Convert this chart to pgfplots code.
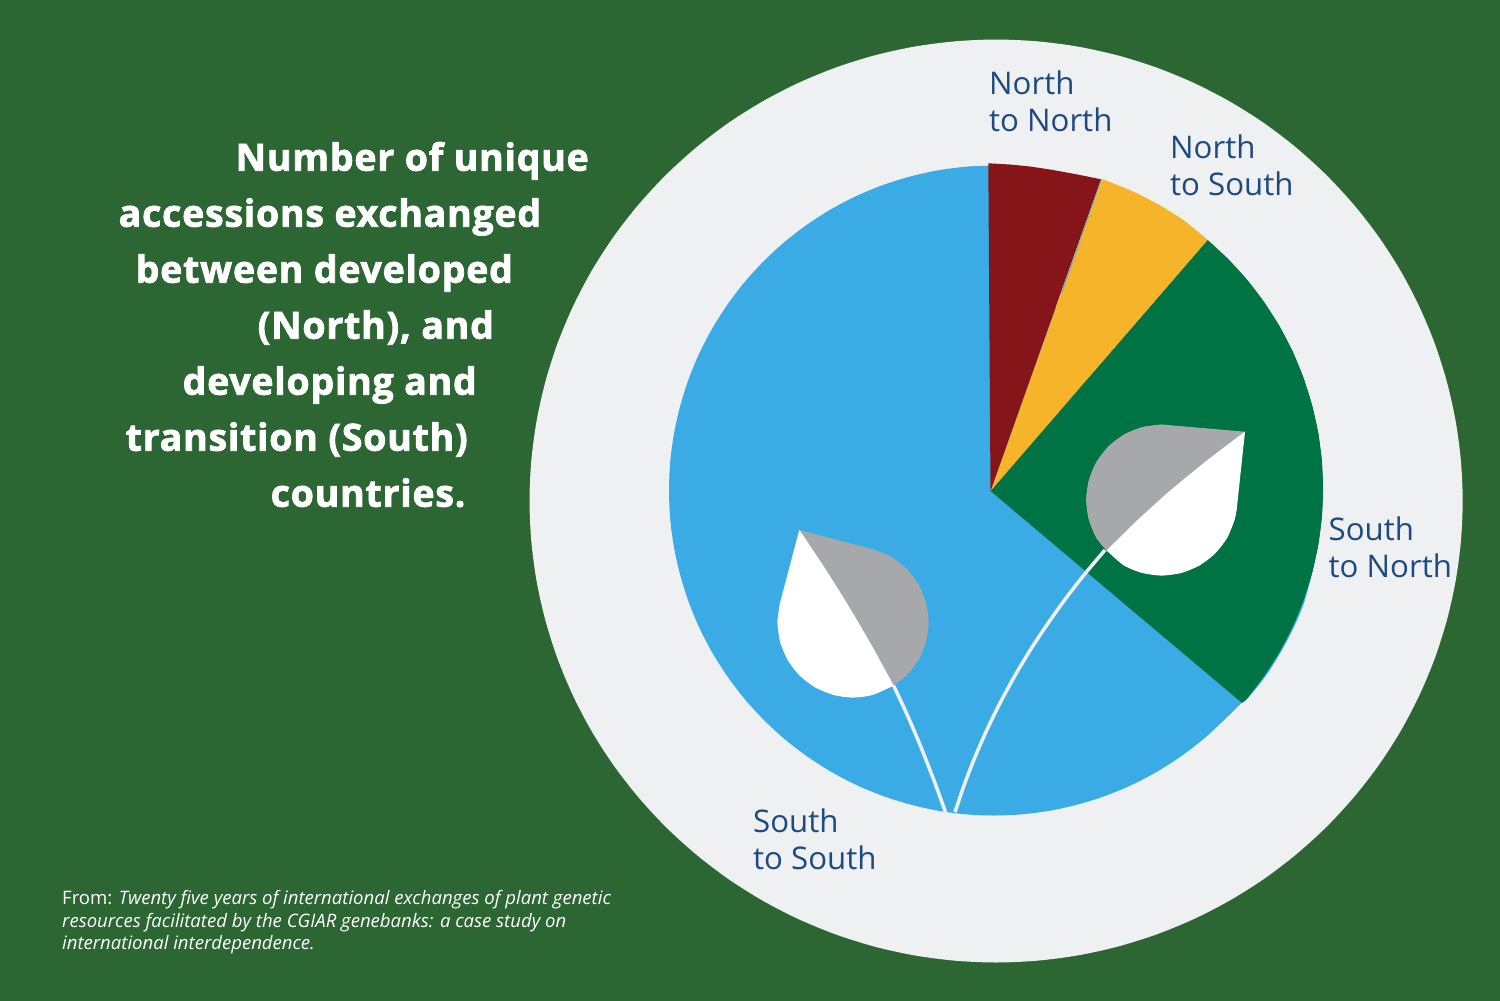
\documentclass[border=0pt]{standalone}
\usepackage{fontspec}
\setmainfont[BoldFeatures={FakeBold=2,LetterSpace=2}]{Open Sans}
\usepackage{pgfplots}
\pgfplotsset{compat=1.18}

\definecolor{bgGreen}{HTML}{2C6633}
\definecolor{disc}{HTML}{EFF0F2}
\definecolor{skyBlue}{HTML}{3AABE4}
\definecolor{maroon}{HTML}{851518}
\definecolor{amber}{HTML}{F6B42B}
\definecolor{sliceGreen}{HTML}{007344}
\definecolor{leafGray}{HTML}{A7A8AB}
\definecolor{labelBlue}{HTML}{1D4A80}

\tikzset{
  titleline/.style={anchor=base west,inner sep=0pt,text=white,font=\fontsize{37.5}{37.5}\selectfont\bfseries},
  slicelabel/.style={anchor=base west,inner sep=0pt,text=labelBlue,font=\fontsize{31.2}{31.2}\selectfont},
  source/.style={anchor=base west,inner sep=0pt,text=white,font=\fontsize{18.55}{18.55}\selectfont},
}

\begin{document}
\begin{tikzpicture}
\begin{axis}[
  scale only axis,width=1500pt,height=1001pt,
  xmin=0,xmax=1500,ymin=0,ymax=1001,y dir=reverse,
  hide axis,
]
% background
\addplot[fill=bgGreen,draw=none] coordinates {(0,0) (1500,0) (1500,1001) (0,1001)};

% outer disc
\addplot[fill=disc,draw=none,smooth cycle] coordinates {
(996.1,39.5) (1036.8,41.3) (1077.1,46.5) (1116.9,55.2) (1155.7,67.3) (1193.3,82.7)
(1229.4,101.3) (1263.7,122.9) (1296,147.5) (1326,174.7) (1353.5,204.4) (1378.3,236.3)
(1400.2,270.2) (1419,306) (1434.6,343.2) (1446.8,381.6) (1455.6,420.9) (1460.9,460.8)
(1462.7,501) (1460.9,541.2) (1455.6,581.1) (1446.8,620.4) (1434.6,658.8) (1419,696)
(1400.2,731.8) (1378.3,765.7) (1353.5,797.6) (1326,827.3) (1296,854.5) (1263.7,879.1)
(1229.4,900.7) (1193.3,919.3) (1155.7,934.7) (1116.9,946.8) (1077.1,955.5) (1036.8,960.7)
(996.1,962.5) (955.4,960.7) (915.1,955.5) (875.3,946.8) (836.5,934.7) (798.9,919.3)
(762.8,900.7) (728.5,879.1) (696.2,854.5) (666.2,827.3) (638.7,797.6) (613.9,765.7)
(592,731.8) (573.2,696) (557.6,658.8) (545.4,620.4) (536.6,581.1) (531.3,541.2)
(529.5,501) (531.3,460.8) (536.6,420.9) (545.4,381.6) (557.6,343.2) (573.2,306)
(592,270.2) (613.9,236.3) (638.7,204.4) (666.2,174.7) (696.2,147.5) (728.5,122.9)
(762.8,101.3) (798.9,82.7) (836.5,67.3) (875.3,55.2) (915.1,46.5) (955.4,41.3)
};

% South to South: arc closed by its chord, the other slices lie over the rest
\addplot[fill=skyBlue,draw=none,smooth] coordinates {
(988.7,165.7) (965.7,166.7) (937.6,170.4) (909.9,176.6) (882.8,185.1) (856.6,195.9)
(831.5,209) (807.6,224.3) (785.1,241.5) (764.2,260.7) (745,281.6) (727.8,304.1)
(712.5,328) (699.4,353.1) (688.6,379.3) (680.1,406.4) (673.9,434.1) (670.2,462.2)
(669,490.5) (670.2,518.8) (673.9,546.9) (680.1,574.6) (688.6,601.7) (699.4,627.9)
(712.5,653) (727.8,676.9) (745,699.4) (764.2,720.3) (785.1,739.5) (807.6,756.7)
(831.5,772) (856.6,785.1) (882.8,795.9) (909.9,804.4) (937.6,810.6) (965.7,814.3)
(994,815.5) (1022.3,814.3) (1050.4,810.6) (1078.1,804.4) (1105.2,795.9) (1131.4,785.1)
(1156.5,772) (1180.4,756.7) (1202.9,739.5) (1223.8,720.3) (1241.7,702.7)
};
% thin blue edge showing past the green slice
\addplot[fill=skyBlue,draw=none,smooth] coordinates {
(1241.7,702.7) (1246.9,699.3) (1265,677) (1280,653.5) (1293.5,628) (1304.5,601.5) (1313.8,566)
};

% South to North
\addplot[fill=sliceGreen,draw=none] coordinates {
(990.5,491) (1207.5,240) (1227.5,258.5) (1246.7,279.4) (1264,302) (1279.3,326) (1292.5,351.2)
(1303.3,377.5) (1311.9,404.6) (1318.1,432.4) (1321.8,460.6) (1323,489) (1321.8,517.4)
(1318.1,545.6) (1311.9,573.4) (1303.3,600.5) (1292.5,626.8) (1279.3,652) (1264,676)
(1246.7,698.6) (1241.7,702.7)
};
\addplot[fill=sliceGreen,draw=none,smooth] coordinates {
(1207.5,240) (1227.5,258.5) (1246.7,279.4) (1264,302) (1279.3,326) (1292.5,351.2)
(1303.3,377.5) (1311.9,404.6) (1318.1,432.4) (1321.8,460.6) (1323,489) (1321.8,517.4)
(1318.1,545.6) (1311.9,573.4) (1303.3,600.5) (1292.5,626.8) (1279.3,652) (1264,676)
(1246.7,698.6) (1241.7,702.7)
};

% North to South
\addplot[fill=amber,draw=none] coordinates {
(990.5,491) (1101.7,179.3) (1108.8,181.7) (1135.2,192.6) (1160.5,205.8) (1184.6,221.1) (1207.5,240)
};
\addplot[fill=amber,draw=none,smooth] coordinates {
(1101.7,179.3) (1108.8,181.7) (1135.2,192.6) (1160.5,205.8) (1184.6,221.1) (1207.5,240)
};

% North to North
\addplot[fill=maroon,draw=none] coordinates {
(990.5,491) (988.3,163.3) (1010,164.5) (1030,166.5) (1050,169.5) (1075,174) (1101,179.3)
};
\addplot[draw=skyBlue,line width=0.6pt] coordinates {(1101.4,179.3) (1062,292)};

% stems
\addplot[draw=disc,line width=3.5pt,smooth] coordinates {
(893.3,685) (907,714.4) (920.2,745.3) (933,777.9) (945.5,812)};
\addplot[draw=disc,line width=3.5pt,smooth] coordinates {
(955,812) (964.6,783.8) (975.4,756.1) (987.4,728.8) (1000.6,701.9) (1015,675.5)
(1030.6,649.5) (1047.5,624) (1065.4,598.9) (1084.6,574.2) (1105,550)};

% right leaf
\addplot[fill=leafGray,draw=none] coordinates {
(1245,431.7) (1161.7,424.5) (1142.2,427.1) (1123.9,434.6) (1108.3,446.6) (1096.3,462.2)
(1088.8,480.5) (1086.2,500) (1088.8,519.5) (1096.3,537.8) (1106.7,550.5)
(1137.2,520.5) (1170.4,490.5) (1206.4,461)
};
\addplot[fill=leafGray,draw=none,smooth] coordinates {
(1161.7,424.5) (1142.2,427.1) (1123.9,434.6) (1108.3,446.6) (1096.3,462.2)
(1088.8,480.5) (1086.2,500) (1088.8,519.5) (1096.3,537.8) (1106.7,550.5)
};
\addplot[fill=white,draw=none] coordinates {
(1245,431.7) (1237,506.6) (1234.6,519.5) (1227.1,537.8) (1215.1,553.4) (1199.5,565.4)
(1181.2,572.9) (1161.7,575.5) (1142.2,572.9) (1123.9,565.4) (1106.7,550.5)
(1137.2,520.5) (1170.4,490.5) (1206.4,461)
};
\addplot[fill=white,draw=none,smooth] coordinates {
(1237,506.6) (1234.6,519.5) (1227.1,537.8) (1215.1,553.4) (1199.5,565.4)
(1181.2,572.9) (1161.7,575.5) (1142.2,572.9) (1123.9,565.4) (1106.7,550.5)
};
\addplot[fill=white,draw=none,smooth] coordinates {
(1106.7,550.5) (1137.2,520.5) (1170.4,490.5) (1206.4,461) (1245,431.7)
};

% left leaf
\addplot[fill=leafGray,draw=none] coordinates {
(799.3,530) (872.5,549.1) (890.8,556.6) (906.4,568.6) (918.4,584.3) (925.9,602.5)
(928.5,622) (925.9,641.5) (918.4,659.8) (906.4,675.4) (893.5,685.5)
(871.7,645.7) (848.7,606.4) (824.5,567.8)
};
\addplot[fill=leafGray,draw=none,smooth] coordinates {
(872.5,549.1) (890.8,556.6) (906.4,568.6) (918.4,584.3) (925.9,602.5)
(928.5,622) (925.9,641.5) (918.4,659.8) (906.4,675.4) (893.5,685.5)
};
\addplot[fill=white,draw=none] coordinates {
(799.3,530) (780.1,602.5) (777.5,622) (780.1,641.5) (787.6,659.8) (799.6,675.4)
(815.3,687.4) (833.5,694.9) (853,697.5) (872.5,694.9) (893.5,685.5)
(871.7,645.7) (848.7,606.4) (824.5,567.8)
};
\addplot[fill=white,draw=none,smooth] coordinates {
(780.1,602.5) (777.5,622) (780.1,641.5) (787.6,659.8) (799.6,675.4)
(815.3,687.4) (833.5,694.9) (853,697.5) (872.5,694.9) (893.5,685.5)
};
\addplot[fill=white,draw=none,smooth] coordinates {
(799.3,530) (824.5,567.8) (848.7,606.4) (871.7,645.7) (893.5,685.5)
};

% title
\node[titleline] at (axis cs:235.5,170.7) {Number of unique};
\node[titleline] at (axis cs:118.5,226.7) {accessions exchanged};
\node[titleline] at (axis cs:135.5,282.7) {between developed};
\node[titleline] at (axis cs:257.5,338.7) {(North), and};
\node[titleline] at (axis cs:182.5,394.7) {developing and};
\node[titleline] at (axis cs:125.5,450.7) {transition (South)};
\node[titleline] at (axis cs:270.5,506.7) {countries.};

% slice labels
\node[slicelabel] at (axis cs:989,94) {North};
\node[slicelabel] at (axis cs:989,131) {to North};
\node[slicelabel] at (axis cs:1170,158.7) {North};
\node[slicelabel] at (axis cs:1170,195.7) {to South};
\node[slicelabel] at (axis cs:1328.5,540) {South};
\node[slicelabel] at (axis cs:1328.5,577) {to North};
\node[slicelabel] at (axis cs:753,832.3) {South};
\node[slicelabel] at (axis cs:753,869.3) {to South};

% source
\node[source] at (axis cs:62,904.5) {From: \textit{Twenty five years of international exchanges of plant genetic}};
\node[source] at (axis cs:62,927) {\textit{resources facilitated by the CGIAR genebanks: a case study on}};
\node[source] at (axis cs:62,949.5) {\textit{international interdependence.}};
\end{axis}
\end{tikzpicture}
\end{document}
